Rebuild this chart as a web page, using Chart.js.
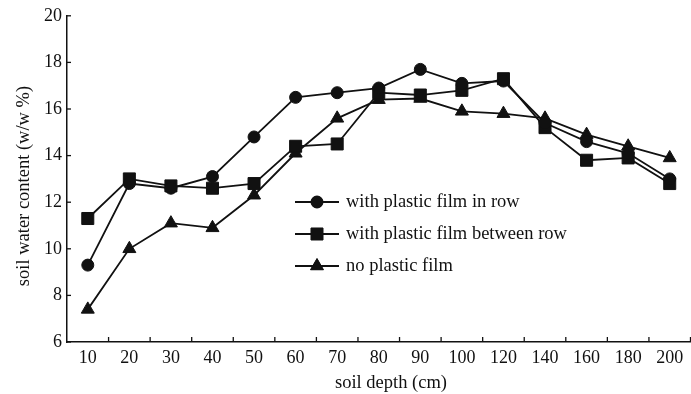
<!DOCTYPE html>
<html>
<head>
<meta charset="utf-8">
<script src="https://cdn.jsdelivr.net/npm/chart.js@4"></script>
<style>
  html, body { margin: 0; padding: 0; background: #fff; overflow: hidden; }
</style>
</head>
<body>
<canvas id="chart" width="700" height="394"></canvas>
<script>
// soil depth categories (cm)
const depths = ['10', '20', '30', '40', '50', '60', '70', '80', '90', '100', '120', '140', '160', '180', '200'];

// soil water content (w/w %)
const filmInRow = [9.3, 12.8, 12.6, 13.1, 14.8, 16.5, 16.7, 16.9, 17.7, 17.1, 17.2, 15.4, 14.6, 14.1, 13.0];
const filmBetweenRow = [11.3, 13.0, 12.7, 12.6, 12.8, 14.4, 14.5, 16.7, 16.6, 16.8, 17.3, 15.2, 13.8, 13.9, 12.8];
const noFilm = [7.4, 10.0, 11.1, 10.9, 12.3, 14.1, 15.6, 16.4, 16.45, 15.9, 15.8, 15.6, 14.9, 14.4, 13.9];

const seriesLabels = ['with plastic film in row', 'with plastic film between row', 'no plastic film'];
const yTicks = [6, 8, 10, 12, 14, 16, 18, 20];

const ink = '#111';
const serif = 'Liberation Serif';

function makeDataset(label, data, style, radius) {
  return {
    label: label,
    data: data,
    borderColor: ink,
    backgroundColor: ink,
    borderWidth: 1.8,
    tension: 0,
    pointStyle: style,
    pointRadius: radius,
    pointHoverRadius: radius,
    pointBorderWidth: 1,
    pointBorderColor: ink,
    pointBackgroundColor: ink,
  };
}

// inward ticks, axis titles and the legend inside the plot
const decorations = {
  id: 'decorations',
  afterDraw(chart) {
    const ctx = chart.ctx;
    const x = chart.scales.x;
    const y = chart.scales.y;
    const area = chart.chartArea;
    ctx.save();
    ctx.strokeStyle = ink;
    ctx.lineWidth = 1.3;

    // x ticks between categories, pointing up
    for (let i = 1; i <= depths.length; i++) {
      const px = (x.getPixelForValue(i - 1) + x.getPixelForValue(i)) / 2;
      ctx.beginPath();
      ctx.moveTo(px, area.bottom);
      ctx.lineTo(px, area.bottom - 5);
      ctx.stroke();
    }
    // y ticks pointing right
    yTicks.forEach(v => {
      const py = y.getPixelForValue(v);
      ctx.beginPath();
      ctx.moveTo(area.left, py);
      ctx.lineTo(area.left + 4, py);
      ctx.stroke();
    });

    // axis titles
    ctx.fillStyle = ink;
    ctx.font = '18.5px "' + serif + '"';
    ctx.textAlign = 'center';
    ctx.textBaseline = 'middle';
    ctx.fillText('soil depth (cm)', 391, 383);
    ctx.save();
    ctx.translate(24, 186);
    ctx.rotate(-Math.PI / 2);
    ctx.fillText('soil water content (w/w %)', 0, 0);
    ctx.restore();

    // legend
    ctx.textAlign = 'left';
    chart.data.datasets.forEach((ds, i) => {
      const ly = 202 + 32 * i;
      ctx.beginPath();
      ctx.lineWidth = 1.8;
      ctx.moveTo(295, ly);
      ctx.lineTo(339, ly);
      ctx.stroke();
      ctx.lineWidth = 1;
      Chart.helpers.drawPoint(ctx, { pointStyle: ds.pointStyle, radius: ds.pointRadius, borderWidth: 1 }, 317, ly);
      ctx.fill();
      ctx.fillText(ds.label, 346, ly);
    });
    ctx.restore();
  }
};

function renderChart() {
  const ctx = document.getElementById('chart').getContext('2d');
  new Chart(ctx, {
    type: 'line',
    data: {
      labels: depths,
      datasets: [
        makeDataset(seriesLabels[0], filmInRow, 'circle', 6),
        makeDataset(seriesLabels[1], filmBetweenRow, 'rect', 8.5),
        makeDataset(seriesLabels[2], noFilm, 'triangle', 7.5),
      ],
    },
    options: {
      responsive: false,
      animation: false,
      devicePixelRatio: 1,
      layout: { padding: { top: 15, right: 6, left: 0, bottom: 0 } },
      plugins: {
        legend: { display: false },
        tooltip: { enabled: false },
      },
      scales: {
        x: {
          type: 'category',
          offset: true,
          grid: { display: false, drawTicks: false },
          border: { display: true, color: ink, width: 1.5 },
          ticks: {
            color: ink,
            padding: 5,
            maxRotation: 0,
            autoSkip: false,
            font: { family: serif, size: 18 },
          },
          afterFit(scale) { scale.height = 52; },
        },
        y: {
          min: 6,
          max: 20,
          grid: { display: false, drawTicks: false },
          border: { display: true, color: ink, width: 1.5 },
          afterBuildTicks(scale) { scale.ticks = yTicks.map(v => ({ value: v })); },
          ticks: {
            color: ink,
            padding: 5,
            font: { family: serif, size: 18 },
          },
          afterFit(scale) { scale.width = 67; },
        },
      },
    },
    plugins: [decorations],
  });
}

window.onload = renderChart;
</script>
</body>
</html>
